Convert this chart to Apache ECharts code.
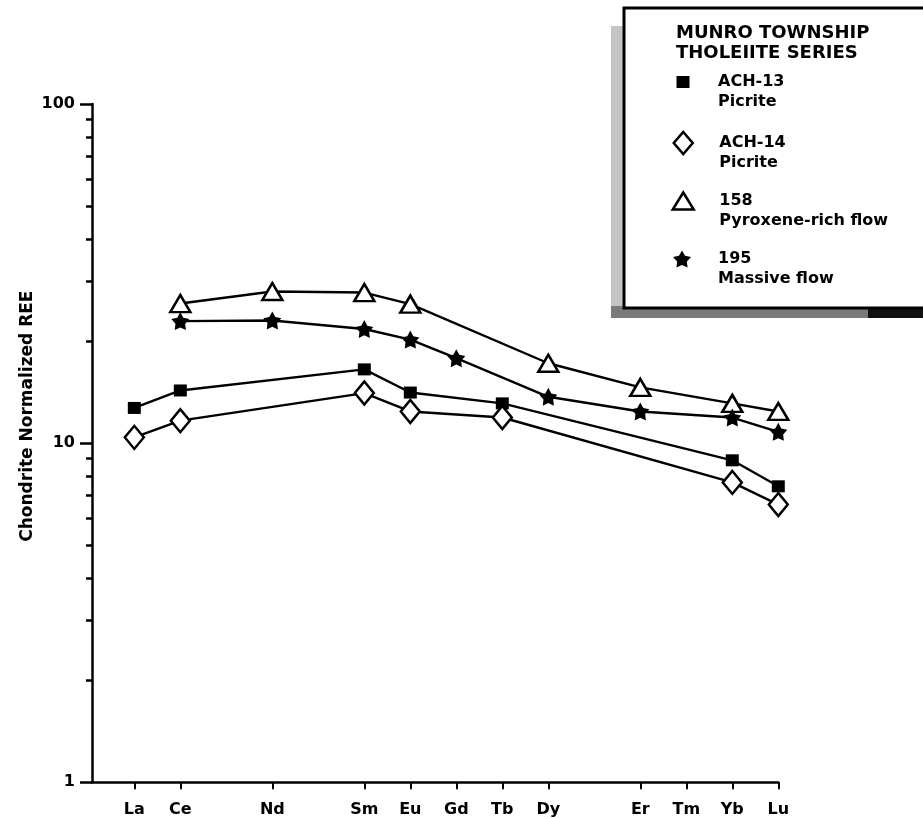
<!DOCTYPE html>
<html>
<head>
<meta charset="utf-8">
<script src="https://cdn.jsdelivr.net/npm/echarts@6/dist/echarts.min.js"></script>
<style>
html,body{margin:0;padding:0;background:#fff;}
#chart{width:923px;height:819px;}
</style>
</head>
<body>
<div id="chart"></div>
<script>
// ---- data ----
var elements = ['La','Ce','Pr','Nd','Pm','Sm','Eu','Gd','Tb','Dy','Ho','Er','Tm','Yb','Lu'];
var labeledElements = ['La','Ce','Nd','Sm','Eu','Gd','Tb','Dy','Er','Tm','Yb','Lu'];
var yMajorTicks = [1, 10, 100];
var yMinorTicks = [2,3,4,5,6,7,8,9,20,30,40,50,60,70,80,90];

var ach13Elements = ['La','Ce','Sm','Eu','Tb','Yb','Lu'];
var ach13Values   = [12.7, 14.3, 16.5, 14.1, 13.1, 8.9, 7.46];
var ach14Elements = ['La','Ce','Sm','Eu','Tb','Yb','Lu'];
var ach14Values   = [10.4, 11.65, 14.05, 12.4, 11.9, 7.66, 6.59];
var s158Elements  = ['Ce','Nd','Sm','Eu','Dy','Er','Yb','Lu'];
var s158Values    = [25.8, 28.0, 27.8, 25.7, 17.2, 14.6, 13.1, 12.4];
var s195Elements  = ['Ce','Nd','Sm','Eu','Gd','Dy','Er','Yb','Lu'];
var s195Values    = [22.9, 23.0, 21.7, 20.2, 17.8, 13.7, 12.4, 11.9, 10.8];

var legendTitle = 'MUNRO TOWNSHIP\nTHOLEIITE SERIES';
var seriesNames = ['ACH-13', 'ACH-14', '158', '195'];
var seriesSubs  = ['Picrite', 'Picrite', 'Pyroxene-rich flow', 'Massive flow'];
var yTitle = 'Chondrite Normalized REE';

// ---- build ----
function pairs(els, vals) {
  return els.map(function (e, i) { return [elements.indexOf(e), vals[i]]; });
}
var FONT = 'DejaVu Sans';
var starPath = 'path://M50,0 L65.87,28.16 L97.55,34.55 L75.68,58.34 L79.39,90.45 L50,77 L20.61,90.45 L24.32,58.34 L2.45,34.55 L34.13,28.16 Z';
var labelIdx = labeledElements.map(function (e) { return elements.indexOf(e); });

var chart = echarts.init(document.getElementById('chart'));

function legendItem(name, icon, style, cx, cy, w, h) {
  var L = 20;
  return {
    orient: 'vertical',
    left: cx - w / 2,
    top: cy - 1.5 * L,
    padding: 0,
    itemWidth: w,
    itemHeight: h,
    selectedMode: false,
    data: [{ name: name, icon: icon, itemStyle: style }],
    formatter: function (n) {
      return ' \n' + n + '\n' + seriesSubs[seriesNames.indexOf(n)];
    },
    textStyle: {
      fontFamily: FONT, fontWeight: 'bold', fontSize: 16, color: '#000',
      lineHeight: L,
      padding: [0, 0, 0, 718 - (cx - w / 2) - w - 5]
    }
  };
}

var lineStyle = { color: '#000', width: 2.4 };
var BW = 2.5;

var option = {
  animation: false,
  backgroundColor: '#fff',
  title: {
    text: legendTitle,
    left: 676, top: 23, padding: 0,
    textStyle: { fontFamily: FONT, fontWeight: 'bold', fontSize: 18, lineHeight: 20, color: '#000' }
  },
  graphic: [
    { type: 'rect', shape: { x: 611, y: 26, width: 14, height: 292 }, style: { fill: '#c4c4c4' }, z: 0 },
    { type: 'rect', shape: { x: 611, y: 306, width: 320, height: 12 }, style: { fill: '#7a7a7a' }, z: 0 },
    { type: 'rect', shape: { x: 868, y: 306, width: 60, height: 12 }, style: { fill: '#111' }, z: 0 },
    { type: 'rect', shape: { x: 624, y: 8, width: 320, height: 300 }, style: { fill: '#fff', stroke: '#000', lineWidth: 3 }, z: 0 }
  ],
  legend: [
    legendItem('ACH-13', 'rect', { color: '#000', borderWidth: 0 }, 683, 82, 13, 12),
    legendItem('ACH-14', 'diamond', { color: '#fff', borderColor: '#000', borderWidth: BW }, 682, 143, 19, 22),
    legendItem('158', 'triangle', { color: '#fff', borderColor: '#000', borderWidth: BW }, 682, 201, 21, 17),
    legendItem('195', starPath, { color: '#000', borderWidth: 0 }, 682, 259, 18, 18)
  ],
  grid: { left: 92, right: 923 - 778.3, top: 104, bottom: 819 - 782.3, containLabel: false },
  xAxis: {
    type: 'value',
    min: -0.92, max: 14,
    splitLine: { show: false },
    axisLine: { onZero: false, lineStyle: { color: '#000', width: 2.5 } },
    axisTick: { customValues: labelIdx, length: 7, lineStyle: { color: '#000', width: 2 } },
    axisLabel: {
      customValues: labelIdx,
      margin: 20,
      fontFamily: FONT, fontWeight: 'bold', fontSize: 16, color: '#000',
      formatter: function (v) { return elements[Math.round(v)]; }
    }
  },
  yAxis: [
    {
      type: 'log', logBase: 10, min: 1, max: 100,
      name: yTitle,
      nameLocation: 'middle',
      nameGap: 56,
      nameMoveOverlap: false,
      nameTextStyle: { fontFamily: FONT, fontWeight: 'bold', fontSize: 17, color: '#000', padding: [0, 0, 0, 54] },
      splitLine: { show: false },
      axisLine: { onZero: false, lineStyle: { color: '#000', width: 2.5 } },
      axisTick: { length: 12, lineStyle: { color: '#000', width: 2.5 } },
      axisLabel: { margin: 17, fontFamily: FONT, fontWeight: 'bold', fontSize: 16, color: '#000' }
    },
    {
      type: 'value', min: 0, max: 2, position: 'left',
      splitLine: { show: false },
      axisLine: { show: false, onZero: false },
      axisLabel: { show: false },
      axisTick: { show: true, customValues: yMinorTicks.map(function (v) { return Math.log10(v); }), length: 6, lineStyle: { color: '#000', width: 2.5 } }
    }
  ],
  series: [
    {
      name: seriesNames[0], type: 'line', data: pairs(ach13Elements, ach13Values),
      symbol: 'rect', symbolSize: [13, 12],
      itemStyle: { color: '#000', borderWidth: 0 }, lineStyle: lineStyle, z: 3
    },
    {
      name: seriesNames[1], type: 'line', data: pairs(ach14Elements, ach14Values),
      symbol: 'diamond', symbolSize: [19, 23],
      itemStyle: { color: '#fff', borderColor: '#000', borderWidth: BW }, lineStyle: lineStyle, z: 3
    },
    {
      name: seriesNames[2], type: 'line', data: pairs(s158Elements, s158Values),
      symbol: 'triangle', symbolSize: [20, 17],
      itemStyle: { color: '#fff', borderColor: '#000', borderWidth: BW }, lineStyle: lineStyle, z: 3
    },
    {
      name: seriesNames[3], type: 'line', data: pairs(s195Elements, s195Values),
      symbol: starPath, symbolSize: 18,
      itemStyle: { color: '#000', borderWidth: 0 }, lineStyle: lineStyle, z: 4
    }
  ]
};
chart.setOption(option);
</script>
</body>
</html>
